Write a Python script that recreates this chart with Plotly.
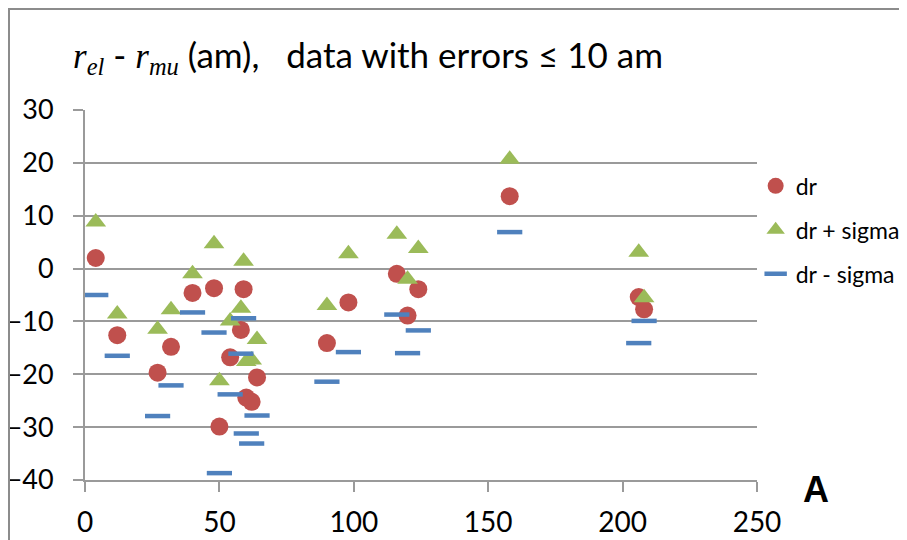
import plotly.graph_objects as go

# Mass number A (x) and values in am
A_vals = [4, 12, 27, 32, 40, 48, 50, 54, 58, 59, 60, 62, 64, 90, 98, 116, 120, 124, 158, 206, 208]
dr = [2.0, -12.6, -19.7, -14.8, -4.6, -3.7, -29.9, -16.8, -11.6, -3.9, -24.4, -25.2, -20.6,
      -14.1, -6.4, -1.0, -8.9, -3.9, 13.7, -5.4, -7.7]
dr_plus = [8.8, -8.6, -11.5, -7.8, -1.0, 4.7, -21.2, -9.9, -7.5, 1.4, -17.6, -17.3, -13.4,
           -7.0, 2.8, 6.5, -2.0, 3.8, 20.7, 3.1, -5.5]
dr_minus = [-5.0, -16.5, -27.9, -22.1, -8.3, -12.1, -38.7, -23.8, -16.1, -9.4, -31.2, -33.1, -27.8,
            -21.4, -15.8, -8.7, -16.0, -11.7, 6.9, -14.1, -9.9]

x_ticks = [0, 50, 100, 150, 200, 250]
y_ticks = [30, 20, 10, 0, -10, -20, -30, -40]

FONT = "Lato, 'Open Sans', sans-serif"
GRID = "#9a9a9a"

fig = go.Figure()
fig.add_trace(go.Scatter(x=A_vals, y=dr, mode="markers", name="dr", legendgroup="a",
                         marker=dict(symbol="circle", size=18, color="#c0504d")))
fig.add_trace(go.Scatter(x=A_vals, y=dr_plus, mode="markers", name="dr + sigma", legendgroup="b",
                         marker=dict(symbol="triangle-up", size=18, color="#9bbb59")))
fig.add_trace(go.Scatter(x=A_vals, y=dr_minus, mode="markers", name="dr - sigma", legendgroup="c",
                         marker=dict(symbol="line-ew", size=18, color="#4f81bd",
                                     line=dict(color="#4f81bd", width=4.5))))

fig.update_layout(
    width=899, height=532,
    margin=dict(l=77, r=150, t=102, b=60, autoexpand=False),
    paper_bgcolor="white", plot_bgcolor="white",
    font=dict(family=FONT, color="black"),
    showlegend=True,
    legend=dict(x=0.998, xanchor="left", y=0.853, yanchor="top",
                font=dict(family=FONT, size=23, color="black"),
                traceorder="grouped", tracegroupgap=11, itemsizing="trace",
                bgcolor="rgba(0,0,0,0)"),
    xaxis=dict(range=[0, 250], tickvals=x_ticks, showgrid=False, zeroline=False,
               showline=True, linecolor=GRID, linewidth=2, automargin=False,
               ticks="outside", ticklen=10, tickcolor=GRID, tickwidth=2,
               tickfont=dict(family=FONT, size=28, color="black"),
               ticklabelstandoff=6),
    yaxis=dict(range=[-40, 30], tickvals=y_ticks, showgrid=True, gridcolor=GRID, gridwidth=2,
               zeroline=False, showline=True, linecolor=GRID, linewidth=2, automargin=False,
               ticks="outside", ticklen=10, tickcolor=GRID, tickwidth=2,
               tickfont=dict(family=FONT, size=27, color="black"),
               ticklabelstandoff=14),
)

title_text = ('<span style="font-family:Liberation Serif"><i>r</i><sub><i>el</i></sub></span>'
              ' - <span style="font-family:Liberation Serif"><i>r</i><sub><i>mu</i></sub></span>'
              ' (am),&nbsp;&nbsp; data with errors ≤ 10 am')
fig.add_annotation(text=title_text, xref="paper", yref="paper", x=-0.021, y=1.145,
                   xanchor="left", yanchor="middle", showarrow=False,
                   font=dict(family=FONT, size=35, color="black"))
fig.add_annotation(text="<b>A</b>", xref="paper", yref="paper", x=1.088, y=-0.027,
                   xanchor="center", yanchor="middle", showarrow=False,
                   font=dict(family="Liberation Sans, Arial, sans-serif", size=36, color="black"))

# chart area border (left and top edges visible)
fig.add_shape(type="path", xref="paper", yref="paper",
              path="M -0.1131,-0.2 L -0.1131,1.273 L 1.3,1.273",
              line=dict(color="#8c8c8c", width=2))

fig.write_html("out.html")
